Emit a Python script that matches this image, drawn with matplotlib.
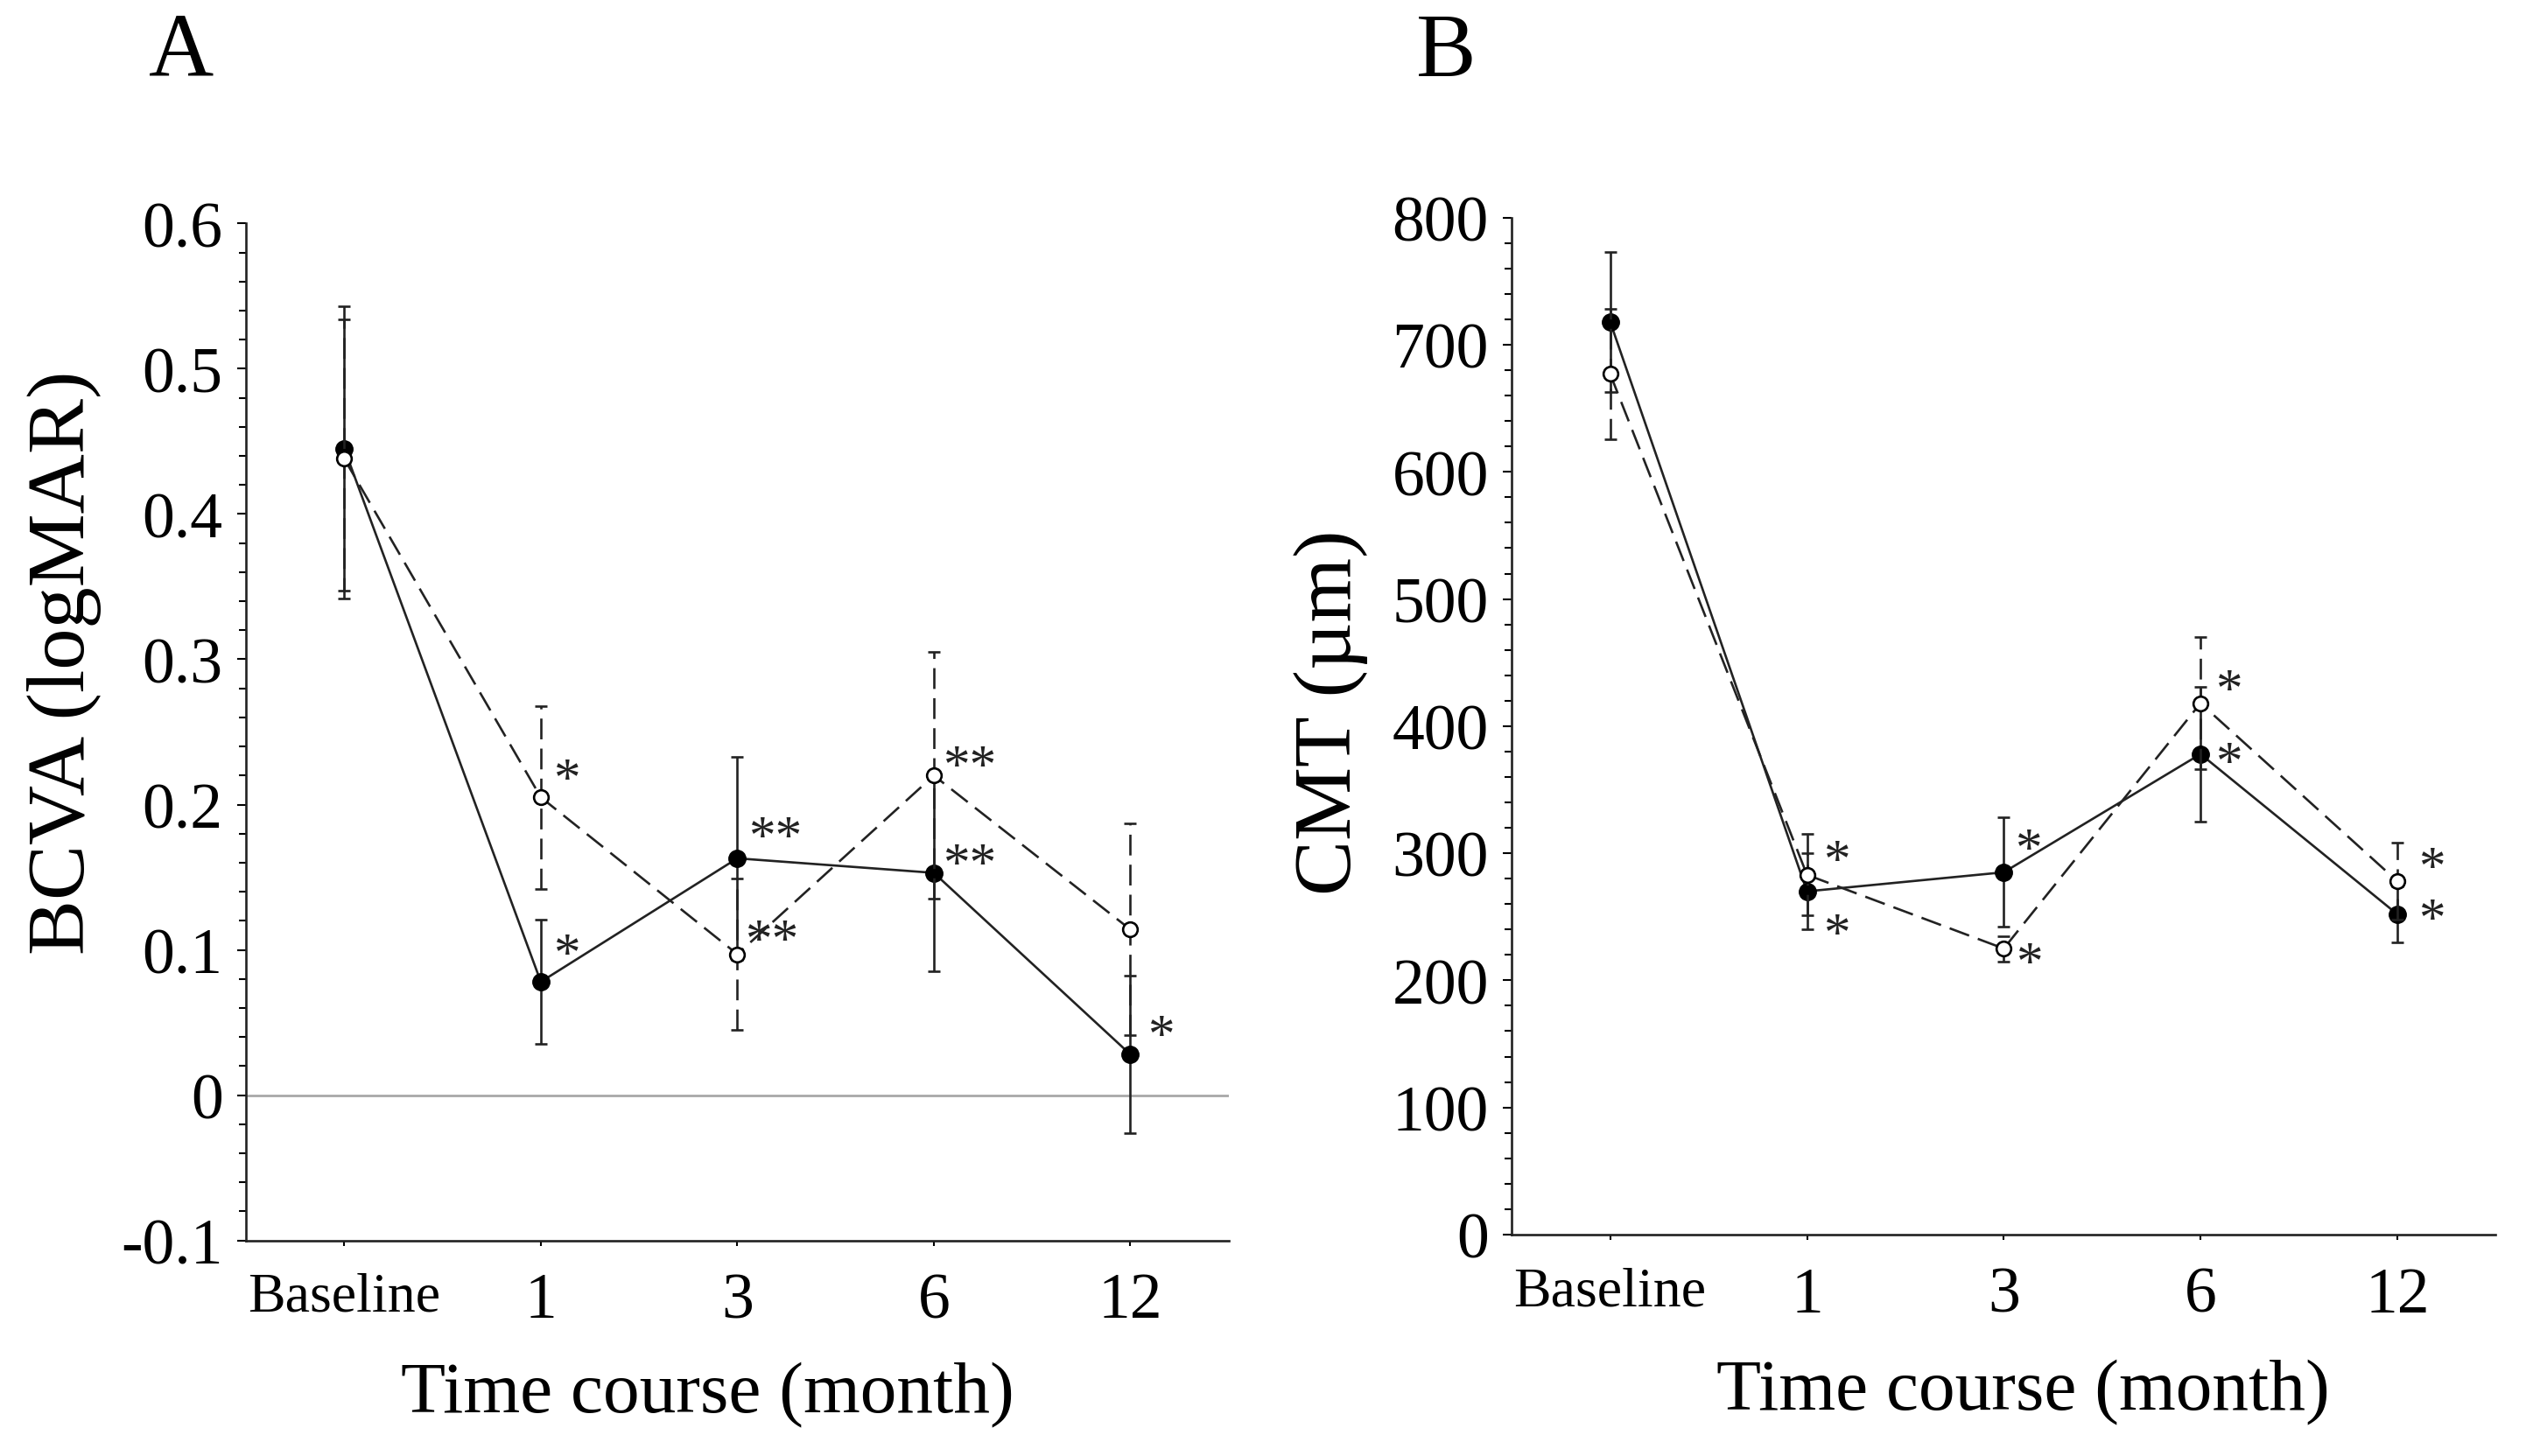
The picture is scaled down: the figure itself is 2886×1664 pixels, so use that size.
import matplotlib
matplotlib.use("Agg")
import matplotlib.pyplot as plt
from matplotlib.ticker import MultipleLocator

plt.rcParams['font.family'] = ['Liberation Serif', 'DejaVu Serif']

# ---- data ----
x_labels = ['Baseline', '1', '3', '6', '12']

bcva_filled = [0.445, 0.078, 0.163, 0.153, 0.028]
bcva_filled_err = [0.098, 0.043, 0.070, 0.068, 0.054]
bcva_open = [0.438, 0.205, 0.097, 0.220, 0.114]
bcva_open_err = [0.096, 0.063, 0.052, 0.085, 0.073]

cmt_filled = [718, 270, 285, 378, 252]
cmt_filled_err = [55, 30, 43, 53, 22]
cmt_open = [677, 283, 225, 418, 278]
cmt_open_err = [51, 32, 10, 52, 30]

bcva_filled_sig = ['', '*', '**', '**', '*']
bcva_open_sig = ['', '*', '**', '**', '']
cmt_filled_sig = ['', '*', '*', '*', '*']
cmt_open_sig = ['', '*', '*', '*', '*']

# star offsets in points (style only)
bcva_filled_off = [(0, 0), (10, 11), (9, 6), (7, -5), (14, 4)]
bcva_open_off = [(0, 0), (10, 3), (6, 0), (7, -4), (0, 0)]
cmt_filled_off = [(0, 0), (13, -47), (9, 7), (12, -19), (17, -16)]
cmt_open_off = [(0, 0), (13, 0), (10, -24), (12, -1), (17, -1)]

W, H = 2886, 1665
fig = plt.figure(figsize=(W / 100, H / 100), dpi=100)

LC = '#222222'
DASH = (0, (9, 4))


def draw(ax, yf, ef, yo, eo, sf, so, offf, offo):
    x = list(range(len(x_labels)))
    ax.errorbar(x, yf, yerr=ef, color=LC, lw=1.9, elinewidth=1.9,
                capsize=5, capthick=1.9, marker='o', ms=14,
                mfc='black', mec='black', zorder=3)
    l2, c2, b2 = ax.errorbar(x, yo, yerr=eo, color=LC, lw=1.9, elinewidth=1.9,
                             capsize=5, capthick=1.9, marker='o', ms=12,
                             mfc='white', mec='black', mew=1.9, ls=DASH, zorder=4)
    for b in b2:
        b.set_linestyle(DASH)
    for i, (s, (dx, dy)) in enumerate(zip(sf, offf)):
        if s:
            ax.annotate(s, (x[i], yf[i]), xytext=(dx, dy), textcoords='offset points',
                        ha='left', va='baseline', fontsize=44, color='#222222')
    for i, (s, (dx, dy)) in enumerate(zip(so, offo)):
        if s:
            ax.annotate(s, (x[i], yo[i]), xytext=(dx, dy), textcoords='offset points',
                        ha='left', va='baseline', fontsize=44, color='#222222')
    ax.set_xlim(-0.5, 4.5)
    ax.set_xticks(x)
    ax.set_xticklabels(x_labels)
    for sp in ['top', 'right']:
        ax.spines[sp].set_visible(False)
    for sp in ['left', 'bottom']:
        ax.spines[sp].set_linewidth(1.9)
        ax.spines[sp].set_color('#222222')
    ax.tick_params(axis='y', which='major', length=7, width=1.5, labelsize=53, pad=12, direction='out')
    ax.tick_params(axis='y', which='minor', length=6, width=1.5, direction='out')
    ax.tick_params(axis='x', which='major', length=4, width=1.5, labelsize=53, pad=22)
    ax.get_xticklabels()[0].set_fontsize(46)


axA = fig.add_axes([0.0974, 0.1480, 0.389, 0.698])
axA.axhline(0, color='#a8a8a8', lw=2, zorder=1)
draw(axA, bcva_filled, bcva_filled_err, bcva_open, bcva_open_err,
     bcva_filled_sig, bcva_open_sig, bcva_filled_off, bcva_open_off)
axA.set_ylim(-0.1, 0.6)
axA.set_yticks([-0.1, 0, 0.1, 0.2, 0.3, 0.4, 0.5, 0.6])
axA.set_yticklabels(['-0.1', '0', '0.1', '0.2', '0.3', '0.4', '0.5', '0.6'])
axA.yaxis.set_minor_locator(MultipleLocator(0.02))

axB = fig.add_axes([0.5985, 0.152, 0.3895, 0.698])
draw(axB, cmt_filled, cmt_filled_err, cmt_open, cmt_open_err,
     cmt_filled_sig, cmt_open_sig, cmt_filled_off, cmt_open_off)
axB.set_ylim(0, 800)
axB.set_yticks(range(0, 801, 100))
axB.yaxis.set_minor_locator(MultipleLocator(20))

fig.text(0.0717, 0.963, 'A', fontsize=74, ha='center', va='center')
fig.text(0.5724, 0.963, 'B', fontsize=74, ha='center', va='center')
fig.text(0.0256, 0.545, 'BCVA (logMAR)', fontsize=68, rotation=90, ha='center', va='center')
fig.text(0.527, 0.511, 'CMT (\u00b5m)', fontsize=68, rotation=90, ha='center', va='center')
fig.text(0.280, 0.042, 'Time course (month)', fontsize=60, ha='center', va='center')
fig.text(0.801, 0.044, 'Time course (month)', fontsize=60, ha='center', va='center')

fig.savefig('out.png', dpi=100, facecolor='white')
